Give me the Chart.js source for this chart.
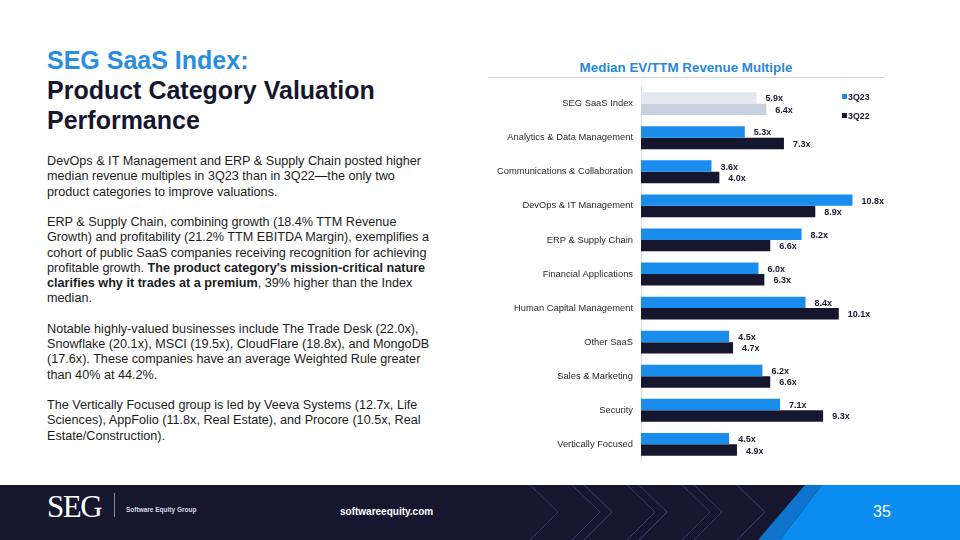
<!DOCTYPE html>
<html>
<head>
<meta charset="utf-8">
<title>SEG SaaS Index - Product Category Valuation Performance</title>
<script src="https://cdn.jsdelivr.net/npm/chart.js@4"></script>
<style>
  html, body { margin: 0; padding: 0; }
  body { width: 960px; height: 540px; position: relative; overflow: hidden; background: #fff; font-family: "Liberation Sans", Arial, sans-serif; }
  .heading { position: absolute; left: 47px; top: 45px; font-weight: bold; font-size: 25px; line-height: 30px; color: #16162e; white-space: nowrap; }
  .heading .blue { color: #2a8ee0; }
  .body-text { position: absolute; left: 47px; top: 154px; font-size: 12.65px; line-height: 15.25px; color: #1c1c1c; white-space: nowrap; }
  .body-text p { margin: 0 0 15.25px 0; }
  .chart-title { position: absolute; left: 480px; width: 412px; top: 60px; text-align: center; font-weight: bold; font-size: 13.4px; color: #2a88d8; }
  .chart-rule { position: absolute; left: 488px; width: 396px; top: 77px; height: 1px; background: #d4d4d4; }
  #wrap { position: absolute; left: 485px; top: 73px; width: 420px; height: 402px; }
  .legend { position: absolute; left: 842px; top: 91px; font-size: 8.8px; font-weight: bold; color: #16162e; }
  .legend div { height: 19px; line-height: 12px; white-space: nowrap; }
  .legend span { display: inline-block; width: 5px; height: 5px; margin-right: 1px; vertical-align: 1px; }
  .footer { position: absolute; left: 0; top: 485px; width: 960px; height: 55px; background: #16162e; overflow: hidden; }
  .footer svg { position: absolute; left: 0; top: 0; }
  .seg { position: absolute; left: 47px; top: 4px; font-family: "Liberation Serif", "DejaVu Serif", serif; font-size: 31px; color: #fff; letter-spacing: -1.5px; }
  .divider { position: absolute; left: 114px; top: 8px; width: 1px; height: 24px; background: #8a8aa0; }
  .sub { position: absolute; left: 126px; top: 21px; font-size: 6.5px; font-weight: bold; color: #d8d8e4; }
  .site { position: absolute; left: 340px; top: 21px; font-size: 10px; font-weight: bold; color: #fff; }
  .page { position: absolute; left: 873px; top: 18px; font-size: 16px; color: #fff; }
</style>
</head>
<body>
<div class="heading"><span class="blue">SEG SaaS Index:</span><br>Product Category Valuation<br>Performance</div>

<div class="body-text">
  <p>DevOps &amp; IT Management and ERP &amp; Supply Chain posted higher<br>median revenue multiples in 3Q23 than in 3Q22—the only two<br>product categories to improve valuations.</p>
  <p>ERP &amp; Supply Chain, combining growth (18.4% TTM Revenue<br>Growth) and profitability (21.2% TTM EBITDA Margin), exemplifies a<br>cohort of public SaaS companies receiving recognition for achieving<br>profitable growth. <b>The product category's mission-critical nature<br>clarifies why it trades at a premium</b>, 39% higher than the Index<br>median.</p>
  <p>Notable highly-valued businesses include The Trade Desk (22.0x),<br>Snowflake (20.1x), MSCI (19.5x), CloudFlare (18.8x), and MongoDB<br>(17.6x). These companies have an average Weighted Rule greater<br>than 40% at 44.2%.</p>
  <p>The Vertically Focused group is led by Veeva Systems (12.7x, Life<br>Sciences), AppFolio (11.8x, Real Estate), and Procore (10.5x, Real<br>Estate/Construction).</p>
</div>

<div class="chart-title">Median EV/TTM Revenue Multiple</div>
<div class="chart-rule"></div>
<div id="wrap"><canvas id="chart"></canvas></div>
<div class="legend" id="legend"></div>

<div class="footer">
  <svg width="960" height="55" id="chev"></svg>
  <div class="seg">SEG</div>
  <div class="divider"></div>
  <div class="sub">Software Equity Group</div>
  <div class="site">softwareequity.com</div>
  <div class="page">35</div>
</div>

<script>
const categories = [
  'SEG SaaS Index',
  'Analytics & Data Management',
  'Communications & Collaboration',
  'DevOps & IT Management',
  'ERP & Supply Chain',
  'Financial Applications',
  'Human Capital Management',
  'Other SaaS',
  'Sales & Marketing',
  'Security',
  'Vertically Focused'
];
const seriesNames = ['3Q23', '3Q22'];
const values3Q23 = [5.9, 5.3, 3.6, 10.8, 8.2, 6.0, 8.4, 4.5, 6.2, 7.1, 4.5];
const values3Q22 = [6.4, 7.3, 4.0, 8.9, 6.6, 6.3, 10.1, 4.7, 6.6, 9.3, 4.9];

const blue = '#1a8ceb';
const navy = '#16162e';
// index row is greyed out
const colors23 = categories.map((c, i) => i === 0 ? '#e3e7ee' : blue);
const colors22 = categories.map((c, i) => i === 0 ? '#c6d0de' : navy);

// legend
const legend = document.getElementById('legend');
[[seriesNames[0], blue], [seriesNames[1], navy]].forEach(([name, col]) => {
  const d = document.createElement('div');
  d.innerHTML = '<span style="background:' + col + '"></span>' + name;
  legend.appendChild(d);
});

// footer chevrons
const chev = document.getElementById('chev');
const tips = [558, 600, 612, 655, 667, 710, 722, 765];
let svg = '<polygon points="822,0 960,0 960,55 780,55" fill="#0a8cf0"/>';
svg += '<polygon points="805,0 822,0 780,55 758,55" fill="#0f74cc"/>';
tips.forEach(t => {
  svg += '<polyline points="' + (t - 28) + ',0 ' + t + ',27 ' + (t - 28) + ',55" fill="none" stroke="#2f4588" stroke-width="0.9"/>';
});
chev.innerHTML = svg;

const valueLabels = {
  id: 'valueLabels',
  afterDatasetsDraw(chart) {
    const ctx = chart.ctx;
    ctx.save();
    ctx.font = 'bold 9px "Liberation Sans", Arial, sans-serif';
    ctx.fillStyle = '#1b1b2f';
    ctx.textAlign = 'left';
    ctx.textBaseline = 'middle';
    chart.data.datasets.forEach((ds, di) => {
      chart.getDatasetMeta(di).data.forEach((bar, i) => {
        ctx.fillText(ds.data[i].toFixed(1) + 'x', bar.x + 9, bar.y + 1);
      });
    });
    ctx.restore();
  }
};

new Chart(document.getElementById('chart'), {
  type: 'bar',
  data: {
    labels: categories,
    datasets: [
      { label: seriesNames[0], data: values3Q23, backgroundColor: colors23 },
      { label: seriesNames[1], data: values3Q22, backgroundColor: colors22 }
    ]
  },
  options: {
    indexAxis: 'y',
    responsive: true,
    maintainAspectRatio: false,
    animation: false,
    categoryPercentage: 0.67,
    barPercentage: 1,
    layout: { padding: { top: 0, bottom: 0, right: 29, left: 0 } },
    plugins: { legend: { display: false }, tooltip: { enabled: false } },
    scales: {
      x: { display: false, min: 0, max: 12 },
      y: {
        grid: { display: false, drawTicks: false },
        border: { display: true, color: '#d9d9d9', width: 1 },
        ticks: { padding: 8, color: '#2b2b2b', font: { size: 9.35, family: '"Liberation Sans", Arial, sans-serif' } },
        afterFit(scale) { scale.width = 156; }
      }
    }
  },
  plugins: [valueLabels]
});
</script>
</body>
</html>
